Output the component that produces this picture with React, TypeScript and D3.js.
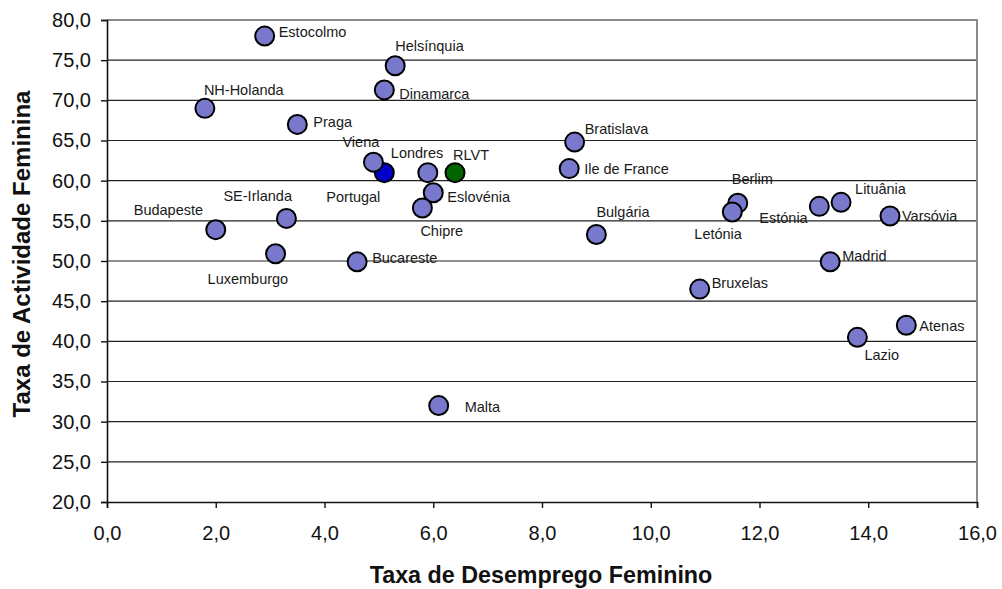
import React, { useEffect, useRef } from "react";
import * as d3 from "d3";

// regions (order = drawing order)
const names = [
  "Portugal", "RLVT", "Estocolmo", "Helsínquia", "Dinamarca", "NH-Holanda", "Praga",
  "Viena", "Londres", "Eslovénia", "Chipre", "SE-Irlanda", "Budapeste",
  "Luxemburgo", "Bucareste", "Malta", "Bratislava", "Ile de France", "Berlim",
  "Letónia", "Estónia", "Lituânia", "Varsóvia", "Bulgária", "Madrid",
  "Bruxelas", "Atenas", "Lazio",
];
// taxa de desemprego feminino
const desemprego = [
  5.1, 6.4, 2.9, 5.3, 5.1, 1.8, 3.5,
  4.9, 5.9, 6.0, 5.8, 3.3, 2.0,
  3.1, 4.6, 6.1, 8.6, 8.5, 11.6,
  11.5, 13.1, 13.5, 14.4, 9.0, 13.3,
  10.9, 14.7, 13.8,
];
// taxa de actividade feminina
const actividade = [
  61.0, 61.0, 78.0, 74.3, 71.3, 69.0, 67.0,
  62.3, 61.0, 58.5, 56.6, 55.3, 53.9,
  50.9, 49.9, 32.0, 64.8, 61.5, 57.2,
  56.1, 56.8, 57.3, 55.6, 53.3, 49.9,
  46.5, 42.0, 40.5,
];

const xTicks = [0, 2, 4, 6, 8, 10, 12, 14, 16];
const yTicks = [20, 25, 30, 35, 40, 45, 50, 55, 60, 65, 70, 75, 80];

// label placement relative to the point (text start, baseline)
const labelOffset: Record<string, [number, number]> = {
  "Estocolmo": [14, 1], "Helsínquia": [0, -15], "Dinamarca": [15, 9],
  "NH-Holanda": [-1, -13], "Praga": [16, 3], "Viena": [-31, -15],
  "Londres": [-37, -15], "RLVT": [-2, -13], "Portugal": [-58, 29],
  "Eslovénia": [14, 9], "Chipre": [-2, 28], "SE-Irlanda": [-63, -17],
  "Budapeste": [-82, -15], "Luxemburgo": [-68, 30], "Bucareste": [15, 1],
  "Malta": [26, 6], "Bratislava": [10, -8], "Ile de France": [15, 5],
  "Berlim": [-6, -19], "Letónia": [-38, 27], "Estónia": [-60, 17],
  "Lituânia": [14, -8], "Varsóvia": [12, 5], "Bulgária": [0, -17],
  "Madrid": [12, -1], "Bruxelas": [12, -1], "Atenas": [13, 6], "Lazio": [7, 23],
};

const fillFor = (n: string) =>
  n === "Portugal" ? "#0000c8" : n === "RLVT" ? "#006400" : "#7878cc";

const App = () => {
  const ref = useRef<SVGSVGElement>(null);

  useEffect(() => {
    const width = 1002;
    const height = 589;
    const svg = d3.select(ref.current);
    svg.selectAll("*").remove();
    svg.attr("width", width).attr("height", height);

    const left = 107, right = 977, top = 20, bottom = 502;
    const font = "'Liberation Sans', Arial, sans-serif";

    const x = d3.scaleLinear().domain([0, 16]).range([left, right]);
    const y = d3.scaleLinear().domain([20, 80]).range([bottom, top]);

    // grid lines
    svg
      .append("g")
      .selectAll("line")
      .data(yTicks.filter((t) => t > 20 && t < 80))
      .join("line")
      .attr("x1", left)
      .attr("x2", right)
      .attr("y1", (d) => y(d))
      .attr("y2", (d) => y(d))
      .attr("stroke", "#222")
      .attr("stroke-width", 1.2);

    // top & right border (grey)
    svg
      .append("path")
      .attr("d", `M${left},${top}H${right}V${bottom}`)
      .attr("fill", "none")
      .attr("stroke", "#8c8c8c")
      .attr("stroke-width", 2);

    // axes
    const fmt = (d: d3.NumberValue) => d3.format(".1f")(d as number).replace(".", ",");
    const xAxis = svg
      .append("g")
      .attr("transform", `translate(0,${bottom})`)
      .call(d3.axisBottom(x).tickValues(xTicks).tickSize(6).tickPadding(18).tickFormat(fmt));
    const yAxis = svg
      .append("g")
      .attr("transform", `translate(${left},0)`)
      .call(d3.axisLeft(y).tickValues(yTicks).tickSize(6).tickPadding(10).tickFormat(fmt));
    [xAxis, yAxis].forEach((g) => {
      g.select(".domain").attr("stroke", "#111").attr("stroke-width", 1.6);
      g.selectAll(".tick line").attr("stroke", "#111").attr("stroke-width", 1.4);
      g.selectAll(".tick text")
        .attr("fill", "#111")
        .style("font-family", font)
        .style("font-size", "20px");
    });

    // axis titles
    svg
      .append("text")
      .attr("x", 541)
      .attr("y", 583)
      .attr("text-anchor", "middle")
      .style("font-family", font)
      .style("font-size", "23.3px")
      .style("font-weight", "bold")
      .attr("fill", "#111")
      .text("Taxa de Desemprego Feminino");

    svg
      .append("text")
      .attr("transform", `translate(30,254) rotate(-90)`)
      .attr("text-anchor", "middle")
      .style("font-family", font)
      .style("font-size", "24px")
      .style("font-weight", "bold")
      .attr("fill", "#111")
      .text("Taxa de Actividade Feminina");

    // points
    const pts = names.map((n, i) => ({ n, vx: desemprego[i], vy: actividade[i] }));

    svg
      .append("g")
      .selectAll("circle")
      .data(pts)
      .join("circle")
      .attr("cx", (d) => x(d.vx))
      .attr("cy", (d) => y(d.vy))
      .attr("r", 9.5)
      .attr("fill", (d) => fillFor(d.n))
      .attr("stroke", "#000")
      .attr("stroke-width", 2);

    // labels
    svg
      .append("g")
      .selectAll("text")
      .data(pts)
      .join("text")
      .attr("x", (d) => x(d.vx) + labelOffset[d.n][0])
      .attr("y", (d) => y(d.vy) + labelOffset[d.n][1])
      .style("font-family", font)
      .style("font-size", "14.5px")
      .attr("fill", "#1a1a1a")
      .text((d) => d.n);
  }, []);

  return (
    <svg
      ref={ref}
      style={{ position: "absolute", left: 0, top: 0, background: "#fff" }}
    />
  );
};

export default App;
